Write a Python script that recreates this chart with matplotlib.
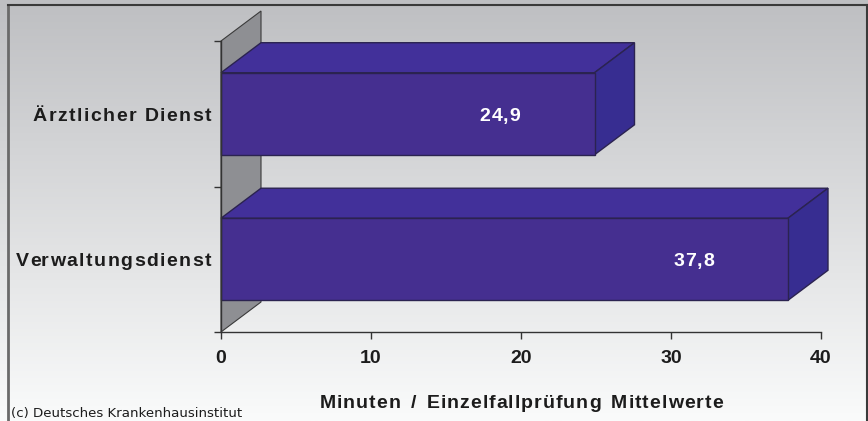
import numpy as np
import matplotlib
matplotlib.use("Agg")
import matplotlib.pyplot as plt
from matplotlib.patches import Polygon, Rectangle
from matplotlib.lines import Line2D
from matplotlib.font_manager import FontProperties
from matplotlib.transforms import IdentityTransform

plt.rcParams['font.family'] = ['Liberation Sans', 'DejaVu Sans']

# Mittelwerte je Dienstart (Minuten pro Einzelfallprüfung)
categories = ['Verwaltungsdienst', 'Ärztlicher Dienst']
values = [37.8, 24.9]
value_labels = ['37,8', '24,9']
xticks = [0, 10, 20, 30, 40]

FRONT = '#452f90'
TOP = '#42309a'
SIDE = '#372d91'
EDGE = '#2b2350'
WALL = '#8e8f93'
TEXT = '#1c1c1c'

W, H = 868, 421
fig = plt.figure(figsize=(W / 100, H / 100), dpi=100)


def spaced_text(x, y, s, size, tracking, ha='left', weight='bold', color=TEXT,
                extra_space=0.0):
    """Text mit zusätzlichem Zeichenabstand, x/y in Pixeln (Grundlinie)."""
    fp = FontProperties(family='Liberation Sans', size=size, weight=weight)
    r = fig.canvas.get_renderer()
    bar = r.get_text_width_height_descent('|', fp, ismath=False)[0]

    def width(t):
        return r.get_text_width_height_descent(t + '|', fp, ismath=False)[0] - bar

    offs = [width(s[:i]) + i * tracking + s[:i].count(' ') * extra_space
            for i in range(len(s))]
    total = width(s) + (len(s) - 1) * tracking + s.count(' ') * extra_space
    if ha == 'right':
        x0 = x - total
    elif ha == 'center':
        x0 = x - total / 2
    else:
        x0 = x
    for ch, o in zip(s, offs):
        if ch != ' ':
            fig.text(x0 + o, y, ch, fontproperties=fp, color=color,
                     ha='left', va='baseline', transform=IdentityTransform(),
                     zorder=10)


# Hintergrund mit Verlauf (oben grau, unten fast weiß)
bg = fig.add_axes([0, 0, 1, 1], zorder=-10)
grad = np.linspace(0, 1, 256).reshape(-1, 1)
top_c = np.array([190, 191, 194]) / 255
bot_c = np.array([250, 251, 251]) / 255
img = top_c + (bot_c - top_c) * grad[:, :, None]
bg.imshow(img, aspect='auto', extent=[0, 1, 0, 1], origin='upper')
bg.set_xlim(0, 1)
bg.set_ylim(0, 1)
bg.axis('off')
# Rahmen
bg.add_line(Line2D([8 / W, 8 / W], [0, 1 - 5 / H], color='#6a6a6a', lw=2))
bg.add_line(Line2D([8 / W, 867 / W], [1 - 5 / H, 1 - 5 / H], color='#3a3a3a', lw=1.5))
bg.add_line(Line2D([867 / W, 867 / W], [0, 1 - 5 / H], color='#3a3a3a', lw=1.5))

ax = fig.add_axes([221 / W, 89 / H, 600 / W, 291 / H])
ax.set_xlim(0, 40)
ax.set_ylim(-0.5, 1.5)
ax.patch.set_visible(False)

# Tiefe des 3D-Effekts in Datenkoordinaten
dx = 40 / 15
dy = 30 / 145.5
h = 0.564

# Rückwand
wall = Polygon([(0, -0.5), (dx, -0.5 + dy), (dx, 1.5 + dy), (0, 1.5)],
               closed=True, facecolor=WALL, edgecolor='#3a3a3a', lw=0.8,
               clip_on=False, zorder=1)
ax.add_patch(wall)

ypos = [0, 1]
for y, v in zip(ypos, values):
    y0, y1 = y - h / 2, y + h / 2
    front = Rectangle((0, y0), v, h, facecolor=FRONT, edgecolor=EDGE, lw=1,
                      clip_on=False, zorder=3)
    top = Polygon([(0, y1), (dx, y1 + dy), (v + dx, y1 + dy), (v, y1)],
                  closed=True, facecolor=TOP, edgecolor=EDGE, lw=1,
                  clip_on=False, zorder=2)
    side = Polygon([(v, y0), (v + dx, y0 + dy), (v + dx, y1 + dy), (v, y1)],
                   closed=True, facecolor=SIDE, edgecolor=EDGE, lw=1,
                   clip_on=False, zorder=2)
    for p in (top, side, front):
        ax.add_patch(p)

for s in ('top', 'right'):
    ax.spines[s].set_visible(False)
for s in ('left', 'bottom'):
    ax.spines[s].set_color('#333333')
    ax.spines[s].set_linewidth(1)
    ax.spines[s].set_zorder(5)

ax.set_xticks(xticks)
ax.set_xticklabels([str(t) for t in xticks], fontsize=14, fontweight='bold',
                   color=TEXT)
ax.tick_params(axis='x', length=5, width=1, color='#333333', pad=8)

ax.set_yticks([])
ax.set_yticks([-0.5, 0.5, 1.5], minor=True)
ax.tick_params(axis='y', which='minor', length=5, width=1, color='#333333')

# Beschriftungen mit erweitertem Zeichenabstand
half_cap = 0.716 * 14 * 100 / 72 / 2
for y, v, lab, cat in zip(ypos, values, value_labels, categories):
    px, py = ax.transData.transform((v - 6.3, y))
    spaced_text(px, py - half_cap, lab, 14, 0.8, ha='center', color='white')
    lx, ly = ax.transData.transform((0, y))
    spaced_text(lx - 10, ly - half_cap, cat, 14, 1.45, ha='right')

cx, _ = ax.transAxes.transform((0.5, 0))
spaced_text(cx, H - 408, 'Minuten / Einzelfallprüfung Mittelwerte', 14, 1.0,
            ha='center', extra_space=3)

fig.text(11 / W, 1 - 413 / H, '(c) Deutsches Krankenhausinstitut',
         family='DejaVu Sans', fontsize=9.6, color=TEXT, ha='left', va='center')

fig.savefig('out.png', dpi=100)
